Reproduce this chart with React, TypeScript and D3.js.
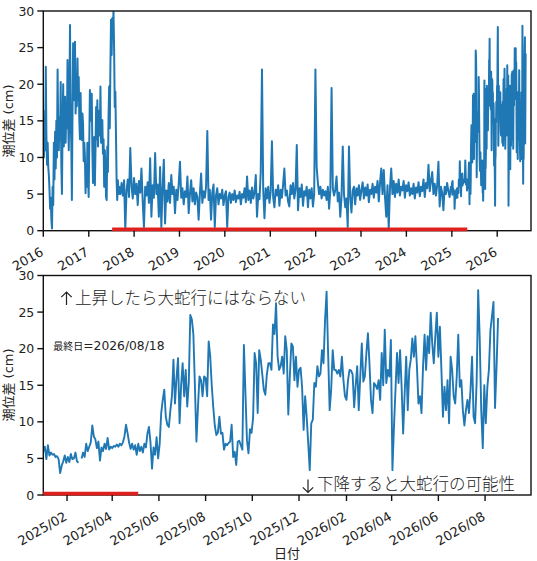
import React from 'react';
import * as d3 from 'd3';

// ---- data ----
// 5-day readings 2016-01-01 .. 2017-08-28 (strong-variation period)
const EARLY_START = '2016-01-01';
const EARLY_STEP_DAYS = 5;
const earlyValues: number[] = [
  16.5, 10.0, 15.5, 11.0, 22.4, 13.0, 9.0, 12.0, 8.7, 7.5,
  5.5, 3.0, 4.5, 1.5, 0.3, 6.0, 3.5, 12.0, 7.0, 13.5,
  8.5, 15.0, 10.0, 22.0, 14.0, 11.0, 15.5, 12.5, 20.3, 9.0,
  5.0, 14.0, 20.0, 11.5, 16.0, 18.3, 12.0, 17.0, 14.0, 23.3,
  15.0, 11.0, 18.0, 28.1, 15.5, 12.0, 4.2, 16.0, 25.6, 17.8,
  22.0, 25.8, 16.0, 20.0, 17.0, 23.5, 17.8, 21.0, 15.1, 12.5,
  18.8, 14.0, 12.4, 16.0, 14.6, 9.5, 12.0, 10.1, 5.1, 9.0,
  6.0, 12.0, 8.0, 4.6, 12.0, 19.2, 15.0, 16.4, 18.7, 11.0,
  6.5, 10.0, 12.8, 6.2, 11.0, 16.9, 12.5, 17.8, 11.5, 14.5,
  16.4, 13.0, 19.7, 12.0, 14.5, 15.1, 10.5, 12.5, 6.0, 11.0,
  8.5, 4.6, 4.2, 11.5, 8.0, 15.6, 19.7, 14.0, 22.4, 28.8,
  24.0, 29.0, 27.0, 30.0, 24.7, 16.9, 19.0, 13.0, 6.9, 4.2,
  6.9, 5.0,
];

// 10-day readings 2017-09-02 .. 2024-12-24
const MID_START = '2017-09-02';
const MID_STEP_DAYS = 10;
const midValues: number[] = [
  6.0, 5.0, 6.5, 4.8, 6.9, 0.2, 5.5, 7.0, 4.6,
  11.3, 6.2, 4.4, 7.2, 5.0, 6.4, 3.5, 6.8, 5.2, 8.5,
  4.0, 0.5, 6.0, 4.8, 6.6, 3.8, 9.9, 1.9, 6.2, 4.5,
  10.6, 5.0, 6.3, 1.9, 8.7, 0.5, 5.8, 9.7, 1.0, 5.5,
  4.0, 6.5, 3.8, 7.6, 5.0, 6.0, 2.4, 5.6, 4.2, 6.4,
  9.4, 4.5, 5.8, 3.6, 5.4, 4.6, 7.4, 2.4, 5.0, 6.9,
  4.0, 5.8, 3.6, 5.2, 4.6, 1.5, 5.0, 7.8, 3.8, 5.4,
  4.5, 6.0, 13.6, 4.2, 5.6, 1.5, 5.2, 6.3, 0.5, 4.8,
  5.8, 3.6, 5.0, 4.4, 5.6, 3.5, 4.8, 5.4, 0.5, 4.6,
  5.2, 3.8, 5.0, 4.2, 5.5, 3.9, 4.8, 4.4, 5.3, 3.6,
  5.0, 4.5, 5.8, 3.9, 7.4, 4.2, 5.5, 3.8, 5.9, 4.4,
  5.2, 7.6, 1.9, 5.0, 4.3, 8.0, 22.0, 5.5, 1.7, 5.8,
  4.4, 6.0, 3.8, 5.3, 12.2, 4.6, 3.2, 5.6, 4.8, 6.2,
  3.4, 5.6, 4.5, 6.3, 8.5, 4.8, 5.5, 4.0, 3.3, 6.2,
  5.0, 6.5, 4.4, 5.6, 11.7, 2.8, 5.8, 4.6, 6.3, 3.4,
  5.4, 4.8, 6.0, 3.2, 5.6, 4.4, 5.8, 3.3, 5.0, 22.0,
  8.7, 6.5, 5.0, 6.0, 4.4, 5.6, 4.8, 5.4, 4.2, 6.0,
  3.0, 5.5, 19.5, 5.8, 4.8, 5.6, 7.4, 4.0, 5.2, 1.9,
  4.6, 11.5, 5.0, 3.2, 4.4, 0.5, 11.5, 4.6, 2.5, 5.5,
  6.0, 3.6, 5.8, 4.8, 6.2, 4.2, 5.5, 6.6, 4.4, 5.9,
  4.8, 6.3, 3.9, 5.6, 5.0, 6.4, 4.5, 6.0, 5.2, 6.8,
  4.0, 6.5, 8.5, 5.0, 8.3, 4.6, 1.9, 6.2, 0.3, 5.8,
  8.5, 5.0, 6.8, 4.6, 6.4, 5.2, 7.0, 4.8, 6.0, 5.5,
  6.8, 4.5, 6.2, 5.4, 6.6, 4.8, 5.8, 5.0, 6.4, 4.4,
  5.9, 5.2, 6.6, 4.7, 6.0, 5.4, 7.0, 4.6, 6.5, 5.8,
  9.0, 5.4, 6.8, 8.0, 5.0, 6.4, 4.8, 6.2, 9.4, 3.3,
  6.0, 5.2, 2.8, 6.0, 5.0, 6.5, 5.4, 4.6, 6.0,
];

// 2-day readings 2025-01-01 .. 2026-08-18 (null = missing)
const RECENT_START = '2025-01-01';
const RECENT_STEP_DAYS = 2;
const recentValues: (number | null)[] = [
  6.0, 6.6, 4.9, 6.8, 5.4, 5.8, 5.5, 5.6, 5.2, 5.3,
  4.9, 3.0, 4.0, 4.6, 5.4, 4.4, 5.2, 4.5, 5.6, 4.9,
  5.0, 5.8, 4.6, 4.4, null, 5.0, 5.8, 5.2, 7.0, 6.0,
  6.6, 7.2, 9.5, 8.0, 7.6, 6.4, 7.3, 4.7, 6.5, 6.0,
  7.0, 6.3, 7.8, 6.2, 6.6, 6.4, 6.7, 6.6, 6.9, 6.6,
  7.0, 6.8, 7.2, 8.0, 9.6, 8.5, 7.2, 6.3, 7.0, 6.2,
  6.8, 5.5, 7.0, 6.0, 6.6, 5.8, 7.0, 6.5, 8.4, 9.3,
  7.2, 3.6, 6.5, 5.5, 7.9, 5.0, 7.0, 11.2, 13.0, 14.4,
  10.7, 9.6, 9.3, 11.6, 13.5, 18.5, 12.5, 16.0, 18.7, 9.8,
  15.0, 18.0, 13.5, 17.1, 12.1, 15.3, 24.6, 24.0, 22.0, 15.0,
  7.3, 12.0, 16.2, 15.7, 13.5, 16.2, 16.0, 13.5, 21.0, 19.0,
  15.0, 12.0, 9.5, 8.2, 8.5, 10.7, 8.4, 8.5, 6.2, 7.0,
  6.8, 7.1, 7.3, 9.6, 5.2, 5.9, 4.1, 7.3, 7.4, 6.8,
  6.2, 20.5, 14.0, 7.5, 5.7, 9.0, 8.5, 10.5, 19.4, 18.0,
  11.2, 19.8, 18.5, 16.5, 14.4, 13.7, 16.5, 18.0, 18.0, 17.1,
  23.3, 22.0, 26.2, 19.0, 17.1, 17.6, 18.9, 16.6, 21.7, 19.8,
  11.0, 16.2, 20.7, 20.3, 15.7, 18.9, 14.8, 17.1, 17.4, 14.8,
  8.9, 13.5, 10.7, 7.1, 3.4, 9.8, 10.3, 15.3, 14.8, 17.6,
  16.2, 16.6, 19.8, 18.0, 23.9, 27.8, 19.4, 11.6, 14.4, 19.8,
  17.1, 17.1, 16.6, 17.1, 16.2, 18.9, 15.7, 13.5, 13.0, 15.7,
  17.1, 17.0, 16.5, 12.0, 15.0, 17.6, 11.6, 16.2, 20.7, 15.5,
  16.2, 19.4, 22.1, 18.0, 13.0, 11.2, 15.3, 15.0, 14.5, 15.7,
  13.0, 19.4, 15.0, 22.6, 15.3, 17.1, 16.2, 21.2, 3.4, 9.3,
  14.4, 19.4, 15.3, 19.8, 14.8, 8.4, 13.9, 18.9, 11.6, 17.1,
  18.5, 21.4, 18.9, 21.7, 17.6, 12.5, 13.5, 11.2, 17.6, 21.9,
  17.1, 21.7, 19.4, 24.9, 20.7, 18.0, 21.7, 24.9, 18.9, 23.0,
  17.1, 10.7, 14.8, 11.6, 15.7, 9.8, 18.9, 17.1, 13.5, 12.5,
  16.2, 21.9, 14.8, 15.7, 11.6, 9.5, 11.6, 13.0, 11.2, 14.4,
  18.9, 10.7, 9.8, 15.5, 28.0, 21.5, 11.6, 6.4, 15.0, 9.8,
  14.8, 17.1, 22.5, 24.4, 26.4, 11.9, 17.5, 24.2,
];

const X_END = '2026-09-30';
const topYearTicks = [2016, 2017, 2018, 2019, 2020, 2021, 2022, 2023, 2024, 2025, 2026];
const recentMonthTicks = ['2025-02-01', '2025-04-01', '2025-06-01', '2025-08-01', '2025-10-01', '2025-12-01', '2026-02-01', '2026-04-01', '2026-06-01', '2026-08-01'];
const yTicks = [0, 5, 10, 15, 20, 25, 30];
const MEANDER_START = '2017-07-08';
const MEANDER_END = '2025-05-05';
const LAST_DATE_LABEL = '2026/08/18';
const Y_LABEL = '潮位差 (cm)';
const X_LABEL = '日付';
const NOTE_UP = '上昇したら大蛇行にはならない';
const NOTE_DOWN = '下降すると大蛇行の可能性';

// ---- helpers ----
const parse = (s: string) => {
  const [y, m, d] = s.split('-').map(Number);
  return new Date(Date.UTC(y, m - 1, d));
};
type Pt = { date: Date; v: number | null };
const buildSeries = (start: string, step: number, vals: (number | null)[]): Pt[] =>
  vals.map((v, i) => ({ date: d3.utcDay.offset(parse(start), i * step), v }));

const recentSeries = buildSeries(RECENT_START, RECENT_STEP_DAYS, recentValues);
const earlySeries = buildSeries(EARLY_START, EARLY_STEP_DAYS, earlyValues)
  .filter((p) => p.date < parse(MID_START));
const midSeries = buildSeries(MID_START, MID_STEP_DAYS, midValues)
  .filter((p) => p.date < parse(RECENT_START));
const topSeries = earlySeries.concat(midSeries, recentSeries);

const BLUE = '#1f77b4';
const RED = '#e0201f';
const TEXT = '#222';
const TICK_FONT = '"DejaVu Sans", "Noto Sans CJK JP", sans-serif';
const CJK_FONT = '"Noto Sans CJK JP", "DejaVu Sans", sans-serif';

// thin arrow glyph drawn as a path (dir = -1 up, +1 down)
function Arrow({ cx, top, bottom, dir }: { cx: number; top: number; bottom: number; dir: number }) {
  const tip = dir < 0 ? top : bottom;
  const h = 5.2 * -dir;
  return (
    <path d={`M${cx},${top}V${bottom}M${cx - 5.2},${tip + h}L${cx},${tip}L${cx + 5.2},${tip + h}`}
      fill="none" stroke={TEXT} strokeWidth={1.2} />
  );
}

type PanelProps = {
  id: string;
  left: number; right: number; top: number; bottom: number;
  start: Date; end: Date;
  ticks: Date[]; fmt: (d: Date) => string;
  data: Pt[];
  lineWidth: number;
  barStart: Date; barEnd: Date;
  yLabelY: number;
  children?: React.ReactNode;
};

function Panel(p: PanelProps) {
  const x = d3.scaleUtc().domain([p.start, p.end]).range([p.left, p.right]);
  const y = d3.scaleLinear().domain([0, 30]).range([p.bottom, p.top]);
  const line = d3.line<Pt>()
    .defined((d) => d.v !== null)
    .x((d) => x(d.date))
    .y((d) => y(d.v as number));
  const clipId = `clip-${p.id}`;
  return (
    <g>
      <defs>
        <clipPath id={clipId}>
          <rect x={p.left} y={p.top} width={p.right - p.left} height={p.bottom - p.top} />
        </clipPath>
      </defs>
      <path d={line(p.data) || ''} fill="none" stroke={BLUE} strokeWidth={p.lineWidth}
        strokeLinejoin="round" clipPath={`url(#${clipId})`} />
      <rect x={p.left} y={p.top} width={p.right - p.left} height={p.bottom - p.top}
        fill="none" stroke="#111" strokeWidth={1.4} />
      <line x1={Math.max(x(p.barStart), p.left)} x2={x(p.barEnd)} y1={p.bottom - 1.3} y2={p.bottom - 1.3}
        stroke={RED} strokeWidth={3.8} />
      {yTicks.map((t) => (
        <g key={t}>
          <line x1={p.left - 6} x2={p.left} y1={y(t)} y2={y(t)} stroke="#111" strokeWidth={1.4} />
          <text x={p.left - 9} y={y(t)} textAnchor="end" dominantBaseline="central"
            fontFamily={TICK_FONT} fontSize={12.5} fill={TEXT}>{t}</text>
        </g>
      ))}
      {p.ticks.map((t, i) => (
        <g key={i}>
          <line x1={x(t)} x2={x(t)} y1={p.bottom} y2={p.bottom + 6} stroke="#111" strokeWidth={1.4} />
          <text transform={`translate(${x(t) + 1},${p.bottom + 24}) rotate(-30)`} textAnchor="end"
            fontFamily={TICK_FONT} fontSize={13} fill={TEXT}>{p.fmt(t)}</text>
        </g>
      ))}
      <text transform={`translate(8,${p.yLabelY}) rotate(-90)`} textAnchor="middle" dominantBaseline="central"
        fontFamily={TICK_FONT} fontSize={13} fill={TEXT}>{Y_LABEL}</text>
      {p.children}
    </g>
  );
}

export default function App() {
  const end = parse(X_END);
  return (
    <svg width={537} height={561} viewBox="0 0 537 561"
      style={{ position: 'absolute', left: 0, top: 0, background: '#fff' }}>
      <rect width={537} height={561} fill="#fff" />
      <Panel id="top" left={43.3} right={531} top={11} bottom={230.7}
        start={parse(EARLY_START)} end={end}
        ticks={topYearTicks.map((yr) => new Date(Date.UTC(yr, 0, 1)))}
        fmt={d3.utcFormat('%Y')}
        data={topSeries}
        lineWidth={2}
        barStart={parse(MEANDER_START)} barEnd={parse(MEANDER_END)}
        yLabelY={121} />
      <Panel id="bottom" left={43.3} right={531} top={275.5} bottom={495}
        start={parse(RECENT_START)} end={end}
        ticks={recentMonthTicks.map(parse)}
        fmt={d3.utcFormat('%Y/%m')}
        data={recentSeries}
        lineWidth={1.9}
        barStart={parse(MEANDER_START)} barEnd={parse(MEANDER_END)}
        yLabelY={385}>
        <Arrow cx={66.5} top={292} bottom={305} dir={-1} />
        <text x={75} y={303.5} fontFamily={CJK_FONT} fontWeight={300} fontSize={16.5} fill={TEXT}>{NOTE_UP}</text>
        <text x={53.3} y={350} fill={TEXT}>
          <tspan fontFamily={CJK_FONT} fontSize={10}>最終日</tspan>
          <tspan fontFamily={TICK_FONT} fontSize={12.3}>={LAST_DATE_LABEL}</tspan>
        </text>
        <Arrow cx={308} top={479.5} bottom={492.5} dir={1} />
        <text x={317} y={490} fontFamily={CJK_FONT} fontWeight={300} fontSize={16.5} fill={TEXT}>{NOTE_DOWN}</text>
      </Panel>
      <text x={287} y={553} textAnchor="middle" dominantBaseline="central"
        fontFamily={TICK_FONT} fontSize={13} fill={TEXT}>{X_LABEL}</text>
    </svg>
  );
}
